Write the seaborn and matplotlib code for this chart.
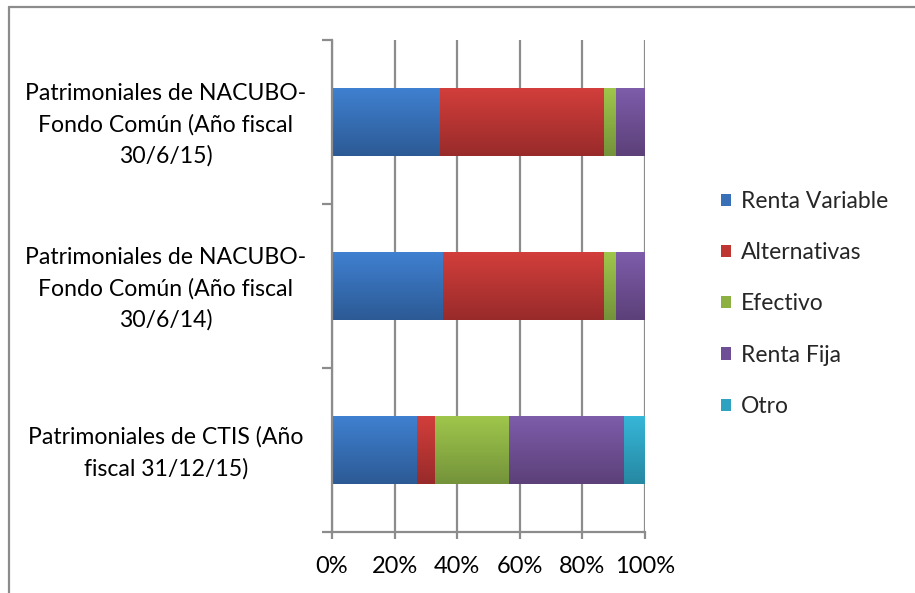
import numpy as np
import pandas as pd
import matplotlib
matplotlib.use("Agg")
import matplotlib.pyplot as plt
import matplotlib.transforms as mtransforms
from matplotlib.lines import Line2D
from matplotlib.patches import Patch
from matplotlib.colors import to_rgb
import seaborn as sns

categories = [
    "Patrimoniales de NACUBO-\nFondo Común (Año fiscal\n30/6/15)",
    "Patrimoniales de NACUBO-\nFondo Común (Año fiscal\n30/6/14)",
    "Patrimoniales de CTIS (Año\nfiscal 31/12/15)",
]
series = ["Renta Variable", "Alternativas", "Efectivo", "Renta Fija", "Otro"]
renta_variable = [34.3, 35.2, 26.9]
alternativas = [52.3, 51.4, 5.8]
efectivo = [4.1, 4.1, 23.6]
renta_fija = [9.3, 9.3, 36.7]
otro = [0.0, 0.0, 7.0]
xticks = [0, 20, 40, 60, 80, 100]
xtick_labels = ["0%", "20%", "40%", "60%", "80%", "100%"]

colors_top = ["#3F80D0", "#D23E3B", "#9FC64B", "#7D5CAA", "#36B6D8"]
colors_bot = ["#2C5A95", "#982B2A", "#74933A", "#5C4079", "#2688A2"]
colors_mid = ["#3A70B8", "#BE3532", "#8CB042", "#6E4F95", "#2FA2C2"]

df = pd.DataFrame({"cat": categories,
                   "Renta Variable": renta_variable,
                   "Alternativas": alternativas,
                   "Efectivo": efectivo,
                   "Renta Fija": renta_fija,
                   "Otro": otro})
cum = df[series].cumsum(axis=1)
for s in series:
    df["cum_" + s] = cum[s]

sns.set_theme(style="white")
plt.rcParams["font.family"] = ["Lato", "DejaVu Sans"]

W, H = 915, 593
fig = plt.figure(figsize=(W / 100, H / 100), dpi=100)
ax = fig.add_axes([332 / W, 1 - 532 / H, (645 - 332) / W, (532 - 40) / H])

gray = "#8C8C8C"
order_idx = list(range(len(series)))[::-1]
for i in order_idx:
    s = series[i]
    n_before = len(ax.patches)
    sns.barplot(data=df, x="cum_" + s, y="cat", color=colors_mid[i],
                orient="h", width=0.41, saturation=1, ax=ax,
                linewidth=0, order=categories)
    new = ax.patches[n_before:]
    for p in new:
        p.set_gid(str(i))

# gradient fill for each bar
ax.set_xlim(0, 100)
ax.set_ylim(2.5, -0.5)
for k, p in enumerate(ax.patches):
    i = int(p.get_gid())
    x0, y0 = p.get_x(), p.get_y()
    w, h = p.get_width(), p.get_height()
    if w <= 0:
        continue
    t = np.linspace(0, 1, 64)[:, None]
    c0 = np.array(to_rgb(colors_top[i]))
    c1 = np.array(to_rgb(colors_bot[i]))
    img = (c0[None, None, :] * (1 - t[..., None]) + c1[None, None, :] * t[..., None])
    img = np.repeat(img, 2, axis=1)
    z = 2 + k * 0.01
    p.set_zorder(z)
    im = ax.imshow(img, extent=(x0, x0 + w, y0 + h, y0), origin="upper",
                   aspect="auto", zorder=z + 0.005, interpolation="bilinear")
    im.set_clip_path(p)

ax.set_xlim(0, 100)
ax.set_ylim(2.5, -0.5)
ax.set_xlabel("")
ax.set_ylabel("")

ax.set_xticks(xticks)
ax.set_xticklabels(xtick_labels)
ax.set_yticks(range(len(categories)))
ax.set_yticklabels(categories, multialignment="center", ha="center",
                   linespacing=1.55)
ax.set_yticks([-0.5, 0.5, 1.5, 2.5], minor=True)

ax.grid(axis="x", color=gray, linewidth=1.6)
ax.grid(axis="y", visible=False)
ax.set_axisbelow(True)
for sp in ["top", "right"]:
    ax.spines[sp].set_visible(False)
for sp in ["left", "bottom"]:
    ax.spines[sp].set_color(gray)
    ax.spines[sp].set_linewidth(1.6)

ax.tick_params(axis="x", which="major", direction="out", length=5, width=1.6,
               color=gray, labelsize=17, labelcolor="black", pad=12, bottom=True)
ax.tick_params(axis="y", which="major", length=0, labelsize=16.6,
               labelcolor="black", pad=0)
ax.tick_params(axis="y", which="minor", direction="out", length=7, width=1.6,
               color=gray, left=True)

# position y labels centered at ~166px, nudged up slightly
offset = mtransforms.ScaledTranslation(0, 4 / 100, fig.dpi_scale_trans)
fig.canvas.draw()
for lab in ax.get_yticklabels():
    lab.set_horizontalalignment("center")
    lab.set_x(-(332 - 166) / (645 - 332))
    lab.set_transform(lab.get_transform() + offset)

handles = [Patch(facecolor=colors_mid[i], edgecolor="none") for i in range(len(series))]
leg = fig.legend(handles, series, loc="center left",
                 bbox_to_anchor=(721 / W, 1 - 304 / H), frameon=False,
                 fontsize=16.5, handlelength=0.45, handleheight=0.45,
                 handletextpad=0.42, labelspacing=1.32, borderpad=0,
                 borderaxespad=0)

fig.add_artist(Line2D([9 / W, 9 / W], [0, 1 - 7 / H], transform=fig.transFigure,
                      color=gray, linewidth=1.6))
fig.add_artist(Line2D([9 / W, 1], [1 - 7 / H, 1 - 7 / H], transform=fig.transFigure,
                      color=gray, linewidth=1.6))

fig.savefig("out.png", dpi=100)
